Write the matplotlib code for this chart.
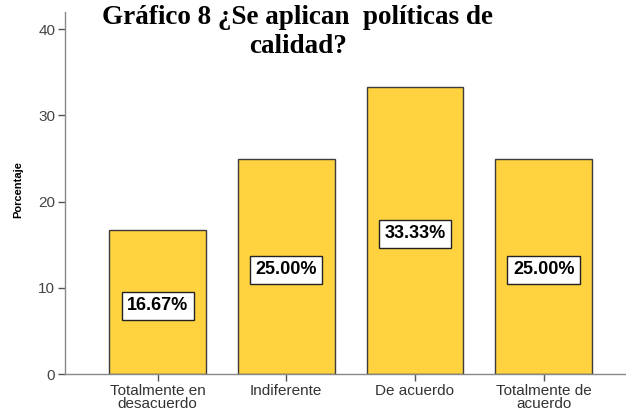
import matplotlib.pyplot as plt

categorias = ["Totalmente en\ndesacuerdo", "Indiferente", "De acuerdo", "Totalmente de\nacuerdo"]
porcentajes = [16.67, 25.00, 33.33, 25.00]
y_ticks = [0, 10, 20, 30, 40]

fig = plt.figure(figsize=(6.26, 4.17), dpi=100)
ax = fig.add_axes([65 / 626, 1 - 374 / 417, 1 - 65 / 626, (374 - 12) / 417])

x = range(len(categorias))
ax.bar(x, porcentajes, width=0.75, color="#FFD23F", edgecolor="#3c3c3c", linewidth=1.0, zorder=2)

# etiquetas de porcentaje dentro de cada barra
for xi, v in zip(x, porcentajes):
    ax.text(xi, v / 2 - 0.4, f"{v:.2f}%", ha="center", va="center",
            fontsize=13, fontweight="bold", family="Liberation Sans",
            bbox=dict(boxstyle="square,pad=0.3", fc="white", ec="#222222", lw=1.0),
            zorder=3)

ax.set_xlim(-0.72, 3.64)
ax.set_ylim(0, 42)
ax.set_yticks(y_ticks)
ax.set_xticks(list(x))
ax.set_xticklabels(categorias, fontsize=11, family="Liberation Sans", color="#333333",
                   linespacing=0.95)
ax.set_yticklabels([str(t) for t in y_ticks], fontsize=11, family="Liberation Sans", color="#444444")
ax.tick_params(axis="both", color="#555555", length=5, width=1, pad=2)

for s in ["top", "right"]:
    ax.spines[s].set_visible(False)
for s in ["left", "bottom"]:
    ax.spines[s].set_color("#888888")
    ax.spines[s].set_linewidth(1.0)

fig.text(18 / 626, 1 - 190 / 417, "Porcentaje", rotation=90, ha="center", va="center",
         fontsize=8, fontweight="bold", family="Liberation Sans")

fig.text(298 / 626, 1 - 5 / 417, "Gráfico 8 ¿Se aplican  políticas de\ncalidad?",
         ha="center", va="top", fontsize=19.5, fontweight="bold",
         family="Liberation Serif", linespacing=1.2)

fig.savefig("out.png", dpi=100)
